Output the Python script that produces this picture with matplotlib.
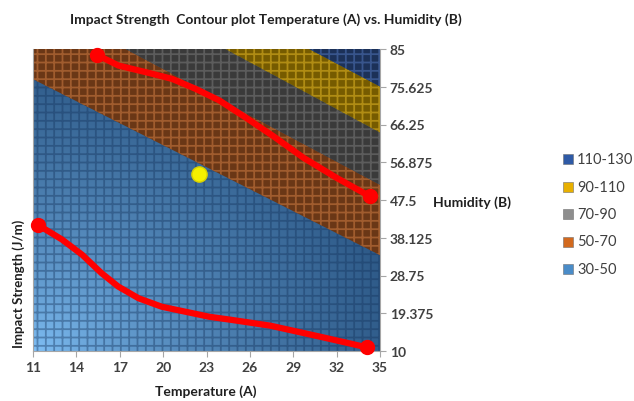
import matplotlib
matplotlib.use("Agg")
import matplotlib.pyplot as plt
from matplotlib.patches import Rectangle
import numpy as np

## Data

# x axis (Temperature) and right y axis (Humidity) ticks
TEMP_TICKS = [11, 14, 17, 20, 23, 26, 29, 32, 35]
HUM_TICKS = [10, 19.375, 28.75, 38.125, 47.5, 56.875, 66.25, 75.625, 85]
HUM_LABELS = ["10", "19.375", "28.75", "38.125", "47.5", "56.875", "66.25", "75.625", "85"]

# Contour band boundaries: humidity at Temperature 11 and 35
TEMP_EDGES = [11, 35]
B50 = [77.5, 33.8]
B70 = [97.3, 51.3]
B90 = [110.8, 64.25]
B110 = [121.3, 75.7]
B130 = [200, 200]

# Red curves (Temperature, Humidity)
UPPER_T = [15.4, 16.9, 18.8, 20.6, 22.25, 23.9, 25.7, 27.6, 29.7, 32.0, 34.3]
UPPER_H = [83.6, 80.9, 79.25, 77.6, 75.1, 72.2, 68.0, 63.4, 58.0, 53.0, 48.4]
LOWER_T = [11.35, 13.0, 14.4, 15.75, 16.9, 18.3, 19.9, 21.55, 23.2, 24.6, 27.4, 30.8, 34.1]
LOWER_H = [41.3, 37.7, 33.9, 29.3, 26.0, 23.1, 21.0, 19.75, 18.5, 17.8, 16.3, 13.6, 10.9]

# Yellow point
CENTER_T = [22.5]
CENTER_H = [54.0]

# Legend
LEGEND_LABELS = ["110-130", "90-110", "70-90", "50-70", "30-50"]
LEGEND_COLORS = ["#2e5aa6", "#e8b000", "#8e8e8e", "#d2691e", "#4a8cc8"]

## Style
FONT = "Lato"
TEXT_COLOR = "#404040"
AXIS_COLOR = "#a6a6a6"
RED = "#ff0000"
YELLOW = "#f4f000"

# band fill colour, grid line colour
BANDS = [
    (B50, B70, "#6a3716", "#a05c2e"),
    (B70, B90, "#3a3a3a", "#5c5c5c"),
    (B90, B110, "#765b00", "#b08c14"),
    (B110, B130, "#1c3158", "#38558c"),
]

plt.rcParams["hatch.linewidth"] = 1.3

fig = plt.figure(figsize=(6.34, 4.02), dpi=100)
ax = fig.add_axes([33 / 634, 50 / 402, 347 / 634, 302 / 402])
ax.set_xlim(TEMP_EDGES[0], TEMP_EDGES[1])
ax.set_ylim(HUM_TICKS[0], HUM_TICKS[-1])

# Blue gradient (light at bottom left)
u, v = np.meshgrid(np.linspace(0, 1, 200), np.linspace(0, 1, 200))
d = np.clip(np.sqrt(u ** 2 + (v * 1.1) ** 2) / 1.05, 0, 1) ** 0.7
light = np.array([0x82, 0xc2, 0xf8]) / 255
dark = np.array([0x2e, 0x5a, 0x88]) / 255
grad = light[None, None, :] * (1 - d[..., None]) + dark[None, None, :] * d[..., None]
ax.imshow(grad, extent=[TEMP_EDGES[0], TEMP_EDGES[1], HUM_TICKS[0], HUM_TICKS[-1]],
          origin="lower", aspect="auto", zorder=0)
ax.fill_between(TEMP_EDGES, [0, 0], B50, facecolor="none", edgecolor=(0.08, 0.2, 0.36, 0.4),
                hatch="++", linewidth=0, zorder=1)

for lo, hi, face, line in BANDS:
    ax.fill_between(TEMP_EDGES, lo, hi, facecolor=face, edgecolor=line,
                    hatch="++", linewidth=0, zorder=1)

# Red curves
ax.plot(UPPER_T, UPPER_H, color=RED, linewidth=4.5, solid_capstyle="round",
        solid_joinstyle="round", zorder=3)
ax.plot(LOWER_T, LOWER_H, color=RED, linewidth=4.5, solid_capstyle="round",
        solid_joinstyle="round", zorder=3)
ax.plot([UPPER_T[0], UPPER_T[-1]], [UPPER_H[0], UPPER_H[-1]], "o", color=RED,
        markersize=10, zorder=4, clip_on=False)
ax.plot([LOWER_T[0], LOWER_T[-1]], [LOWER_H[0], LOWER_H[-1]], "o", color=RED,
        markersize=10, zorder=4, clip_on=False)
ax.plot(CENTER_T, CENTER_H, "o", color=YELLOW, markeredgecolor="#d8d000",
        markersize=11, zorder=4)

# Axes
ax.yaxis.tick_right()
ax.set_xticks(TEMP_TICKS)
ax.set_yticks(HUM_TICKS)
ax.set_yticklabels(HUM_LABELS)
ax.tick_params(axis="both", colors=AXIS_COLOR, labelcolor=TEXT_COLOR, length=4,
               labelsize=10, pad=3)
for lab in ax.get_xticklabels() + ax.get_yticklabels():
    lab.set_fontfamily(FONT)
    lab.set_fontweight("bold")
ax.spines["top"].set_visible(False)
for s in ["left", "right", "bottom"]:
    ax.spines[s].set_color(AXIS_COLOR)
    ax.spines[s].set_linewidth(0.8)

# Texts
fig.text(266 / 634, 1 - 20 / 402, "Impact Strength  Contour plot Temperature (A) vs. Humidity (B)",
         ha="center", va="center", fontsize=10, fontweight="bold", family=FONT, color="#202020")
fig.text(206 / 634, 1 - 392 / 402, "Temperature (A)", ha="center", va="center",
         fontsize=10, fontweight="bold", family=FONT, color="#202020")
fig.text(19 / 634, 1 - 284 / 402, "Impact Strength (J/m)", ha="center", va="center",
         rotation=90, fontsize=9.5, fontweight="bold", family=FONT, color="#202020")
fig.text(472 / 634, 1 - 203 / 402, "Humidity (B)", ha="center", va="center",
         fontsize=10, fontweight="bold", family=FONT, color="#202020")

# Legend (drawn by hand, runs past the right edge like the reference)
for i, (lab, col) in enumerate(zip(LEGEND_LABELS, LEGEND_COLORS)):
    y = 1 - (160 + i * 27.5) / 402
    fig.add_artist(Rectangle((563 / 634, y - 5 / 402), 10 / 634, 10 / 402,
                             transform=fig.transFigure, facecolor=col,
                             edgecolor="#707070", linewidth=0.4))
    fig.text(577 / 634, y, lab, ha="left", va="center", fontsize=10.5,
             family=FONT, color=TEXT_COLOR)

fig.savefig("out.png", dpi=100, facecolor="white")
